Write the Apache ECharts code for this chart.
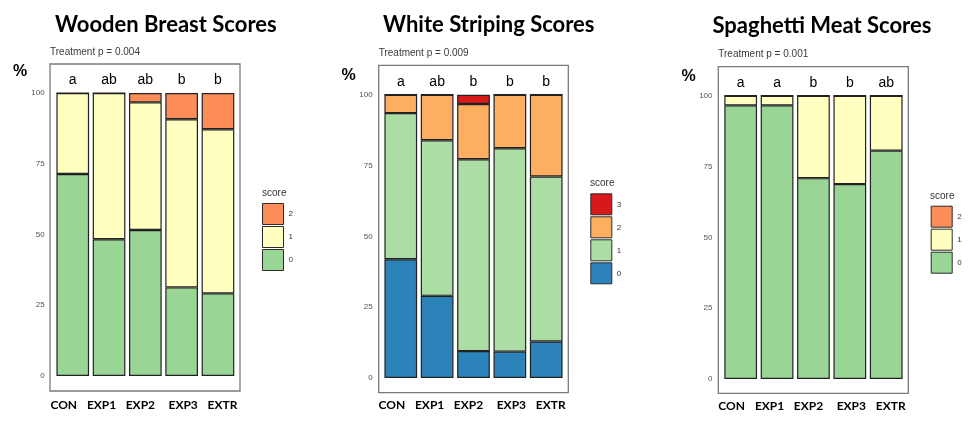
<!DOCTYPE html>
<html>
<head>
<meta charset="utf-8">
<script src="https://cdn.jsdelivr.net/npm/echarts@6/dist/echarts.min.js"></script>
<style>
html,body{margin:0;padding:0;background:#fff;}
#c{width:973px;height:436px;}
</style>
</head>
<body>
<div id="c"></div>
<script>
// ---- data ----
const categories = ['CON', 'EXP1', 'EXP2', 'EXP3', 'EXTR'];
const panelTitles = ['Wooden Breast Scores', 'White Striping Scores', 'Spaghetti Meat Scores'];
const pTexts = ['Treatment p = 0.004', 'Treatment p = 0.009', 'Treatment p = 0.001'];
const wbLetters = ['a', 'ab', 'ab', 'b', 'b'];
const wsLetters = ['a', 'ab', 'b', 'b', 'b'];
const smLetters = ['a', 'a', 'b', 'b', 'ab'];
// Wooden Breast (% per score)
const wb0 = [71.4, 48.3, 51.6, 31.3, 29.2];
const wb1 = [28.6, 51.7, 45.1, 59.4, 58.0];
const wb2 = [0, 0, 3.3, 9.3, 12.8];
// White Striping
const ws0 = [41.9, 29.0, 9.5, 9.3, 12.9];
const ws1 = [51.6, 54.9, 67.7, 71.8, 58.2];
const ws2 = [6.5, 16.1, 19.5, 18.9, 28.9];
const ws3 = [0, 0, 3.3, 0, 0];
// Spaghetti Meat
const sm0 = [96.6, 96.6, 70.9, 68.8, 80.6];
const sm1 = [3.4, 3.4, 29.1, 31.2, 19.4];
const sm2 = [0, 0, 0, 0, 0];
const yMin = 0, yMax = 100, yStep = 25;

// ---- layout ----
const dataGrids = [
  {left: 54.6, top: 93, width: 181.5, height: 283},
  {left: 382.6, top: 94.7, width: 181.8, height: 283.3},
  {left: 722.5, top: 95.7, width: 181.9, height: 283.3}
];
const frames = [
  {left: 50, top: 64, width: 190, height: 327},
  {left: 378.7, top: 65.3, width: 189.6, height: 327.4},
  {left: 718.3, top: 66.7, width: 190, height: 326.6}
];
const bottomMargins = [23, 21, 21];
// horizontal nudge (px) of each bottom label relative to its bar centre
const labelShift = [-9, -7.5, -5, 1.5, 4.5];
const letterSets = [wbLetters, wsLetters, smLetters];

const SPECTRAL3 = {'2': '#fc8d59', '1': '#ffffbf', '0': '#99d594'};
const SPECTRAL4 = {'3': '#d7191c', '2': '#fdae61', '1': '#abdda4', '0': '#2b83ba'};

const grids = [];
dataGrids.forEach(g => grids.push(Object.assign({show: false, outerBoundsMode: 'none', containLabel: false}, g)));
frames.forEach(g => grids.push(Object.assign({show: true, outerBoundsMode: 'none', containLabel: false,
  borderColor: '#7a7a7a', borderWidth: 1.3, backgroundColor: 'transparent'}, g)));

const catFont = {fontFamily: 'Lato', fontWeight: 'bold', fontSize: 12, color: '#000'};
const rich = {};
labelShift.forEach((d, i) => {
  rich['s' + i] = Object.assign({padding: d < 0 ? [0, -2 * d, 0, 0] : [0, 0, 0, 2 * d]}, catFont);
});

const xAxes = [], yAxes = [];
for (let i = 0; i < 3; i++) {
  xAxes.push({
    type: 'category', gridIndex: i, data: categories, position: 'bottom',
    axisLine: {show: false}, axisTick: {show: false}, splitLine: {show: false},
    axisLabel: Object.assign({interval: 0, hideOverlap: false, margin: bottomMargins[i],
      formatter: (v, idx) => '{s' + idx + '|' + v + '}', rich: rich}, catFont)
  });
  xAxes.push({
    type: 'category', gridIndex: i, data: letterSets[i], position: 'top',
    axisLine: {show: false}, axisTick: {show: false}, splitLine: {show: false},
    axisLabel: {interval: 0, margin: 6, fontFamily: 'Liberation Sans', fontSize: 14, color: '#000'}
  });
  yAxes.push({
    type: 'value', gridIndex: i, min: yMin, max: yMax, interval: yStep,
    axisLine: {show: false}, axisTick: {show: false}, splitLine: {show: false},
    axisLabel: {margin: 10, fontFamily: 'Liberation Sans', fontSize: 8, color: '#555'}
  });
}

function barSeries(name, data, color, panel) {
  return {
    type: 'bar', name: name, data: data, stack: 'p' + panel,
    xAxisIndex: panel * 2, yAxisIndex: panel,
    barCategoryGap: '10%',
    itemStyle: {color: color, borderColor: '#222', borderWidth: 1.2},
    emphasis: {disabled: true}, animation: false
  };
}

const series = [
  barSeries('wb-0', wb0, SPECTRAL3['0'], 0),
  barSeries('wb-1', wb1, SPECTRAL3['1'], 0),
  barSeries('wb-2', wb2, SPECTRAL3['2'], 0),
  barSeries('ws-0', ws0, SPECTRAL4['0'], 1),
  barSeries('ws-1', ws1, SPECTRAL4['1'], 1),
  barSeries('ws-2', ws2, SPECTRAL4['2'], 1),
  barSeries('ws-3', ws3, SPECTRAL4['3'], 1),
  barSeries('sm-0', sm0, SPECTRAL3['0'], 2),
  barSeries('sm-1', sm1, SPECTRAL3['1'], 2),
  barSeries('sm-2', sm2, SPECTRAL3['2'], 2)
];

const legendCommon = {
  orient: 'vertical', icon: 'rect', itemWidth: 21, itemHeight: 21, itemGap: 1,
  padding: 0, selectedMode: false,
  itemStyle: {borderColor: '#2b2b2b', borderWidth: 1},
  textStyle: {fontFamily: 'Liberation Sans', fontSize: 8, color: '#333'},
  formatter: n => n.split('-')[1]
};
const legends = [
  Object.assign({left: 262, top: 203, data: ['wb-2', 'wb-1', 'wb-0']}, legendCommon),
  Object.assign({left: 590.3, top: 193.3, data: ['ws-3', 'ws-2', 'ws-1', 'ws-0']}, legendCommon),
  Object.assign({left: 930.7, top: 205.7, data: ['sm-2', 'sm-1', 'sm-0']}, legendCommon)
];

const titleFont = {fontFamily: 'Lato', fontWeight: 'bold', fontSize: 22, color: '#000'};
const pFont = {fontFamily: 'Liberation Sans', fontSize: 10, color: '#3a3a3a', fontWeight: 'normal'};
const pctFont = {fontFamily: 'Liberation Sans', fontSize: 16, color: '#000', fontWeight: 'bold'};
const scoreFont = {fontFamily: 'Liberation Sans', fontSize: 10, color: '#333', fontWeight: 'normal'};
const titles = [
  {text: panelTitles[0], left: 55, top: 14, textStyle: titleFont, padding: 0},
  {text: panelTitles[1], left: 383, top: 14, textStyle: titleFont, padding: 0},
  {text: panelTitles[2], left: 712.5, top: 15, textStyle: titleFont, padding: 0},
  {text: pTexts[0], left: 50, top: 47, textStyle: pFont, padding: 0},
  {text: pTexts[1], left: 378.7, top: 48.5, textStyle: pFont, padding: 0},
  {text: pTexts[2], left: 718.3, top: 49.5, textStyle: pFont, padding: 0},
  {text: '%', left: 13, top: 64, textStyle: pctFont, padding: 0},
  {text: '%', left: 341.5, top: 68, textStyle: pctFont, padding: 0},
  {text: '%', left: 681.5, top: 69, textStyle: pctFont, padding: 0},
  {text: 'score', left: 262, top: 188, textStyle: scoreFont, padding: 0},
  {text: 'score', left: 590, top: 178, textStyle: scoreFont, padding: 0},
  {text: 'score', left: 930, top: 191.5, textStyle: scoreFont, padding: 0}
];

const chart = echarts.init(document.getElementById('c'), null, {renderer: 'canvas'});
chart.setOption({
  backgroundColor: '#fff',
  animation: false,
  title: titles,
  legend: legends,
  grid: grids,
  xAxis: xAxes,
  yAxis: yAxes,
  series: series
});
</script>
</body>
</html>
